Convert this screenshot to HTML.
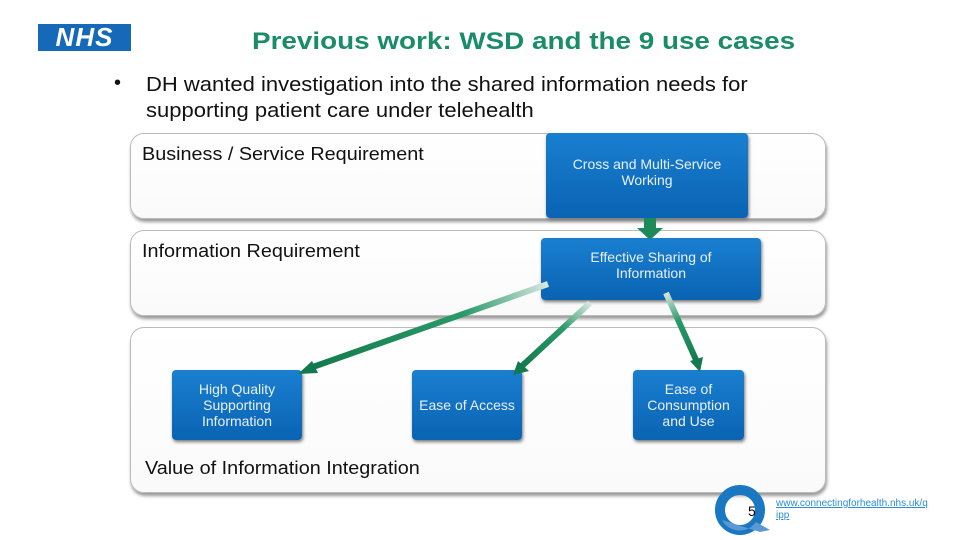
<!DOCTYPE html>
<html><head><meta charset="utf-8"><style>
body{margin:0;width:960px;height:540px;background:#fff;font-family:"Liberation Sans",sans-serif;position:relative;overflow:hidden}
.a{position:absolute}
.panel{position:absolute;left:130px;width:694px;border:1px solid #bbb;border-radius:14px;background:linear-gradient(#fff,#fafafa);box-shadow:1px 3px 3px #999}
.box{position:absolute;background:linear-gradient(#1a7fd0,#0a63b3);border-radius:4px;box-shadow:1px 2px 3px #777;color:#e8f1fb;font-size:14px;display:flex;align-items:center;justify-content:center;text-align:center;line-height:16px}
.lbl{position:absolute;font-size:18px;color:#111;transform:scaleX(1.1);transform-origin:left top;white-space:nowrap}
</style></head><body>
<div class="a" style="left:38px;top:24px;width:93px;height:27px;background:#1569b8;color:#fff;font:italic bold 26px 'Liberation Sans',sans-serif;text-align:center;line-height:27px;letter-spacing:1px">NHS</div>
<div class="a" style="left:252px;top:28px;font-size:24px;font-weight:bold;color:#1a8c68;transform:scaleX(1.16);transform-origin:left top;white-space:nowrap">Previous work: WSD and the 9 use cases</div>
<div class="a" style="left:114px;top:72px;font-size:20px;color:#111">•</div>
<div class="a" style="left:146px;top:72px;font-size:20px;line-height:26px;color:#111;transform:scaleX(1.1);transform-origin:left top;white-space:nowrap">DH wanted investigation into the shared information needs for<br>supporting patient care under telehealth</div>
<div class="panel" style="top:133px;height:84px"></div>
<div class="panel" style="top:230px;height:84px"></div>
<div class="panel" style="top:327px;height:164px"></div>
<div class="lbl" style="left:142px;top:144px">Business / Service Requirement</div>
<div class="lbl" style="left:142px;top:241px">Information Requirement</div>
<div class="lbl" style="left:145px;top:458px">Value of Information Integration</div>
<div class="box" style="left:546px;top:133px;width:202px;height:85px;padding-bottom:8px;box-sizing:border-box">Cross and Multi-Service<br>Working</div>
<div class="box" style="left:541px;top:238px;width:220px;height:62px;padding-bottom:8px;box-sizing:border-box">Effective Sharing of<br>Information</div>
<div class="box" style="left:172px;top:370px;width:130px;height:70px">High Quality<br>Supporting<br>Information</div>
<div class="box" style="left:412px;top:370px;width:110px;height:70px">Ease of Access</div>
<div class="box" style="left:633px;top:370px;width:111px;height:70px">Ease of<br>Consumption<br>and Use</div>
<svg class="a" style="left:0;top:0" width="960" height="540">
<defs>
<linearGradient id="g1" gradientUnits="userSpaceOnUse" x1="548" y1="284" x2="310" y2="368"><stop offset="0" stop-color="#d8e8e0"/><stop offset="0.35" stop-color="#2a9a6a"/><stop offset="1" stop-color="#137a4e"/></linearGradient>
<linearGradient id="g2" gradientUnits="userSpaceOnUse" x1="590" y1="303" x2="522" y2="366"><stop offset="0" stop-color="#d8e8e0"/><stop offset="0.4" stop-color="#2a9a6a"/><stop offset="1" stop-color="#137a4e"/></linearGradient>
<linearGradient id="g3" gradientUnits="userSpaceOnUse" x1="666" y1="293" x2="697" y2="362"><stop offset="0" stop-color="#d8e8e0"/><stop offset="0.4" stop-color="#2a9a6a"/><stop offset="1" stop-color="#137a4e"/></linearGradient>
</defs>
<polygon points="644,218 656,218 656,228 663,228 650,240 637,228 644,228" fill="#1e8a5a"/>
<g stroke-width="6" fill="none">
<line x1="548" y1="284" x2="310" y2="368" stroke="url(#g1)"/>
<line x1="590" y1="303" x2="522" y2="366" stroke="url(#g2)"/>
<line x1="666" y1="293" x2="697" y2="362" stroke="url(#g3)"/>
</g>
<polygon points="298,374 312,361 318,373" fill="#137a4e"/>
<polygon points="513,375 518,361 529,371" fill="#137a4e"/>
<polygon points="700,372 690,361 703,357" fill="#137a4e"/>
<circle cx="740" cy="510" r="20" fill="none" stroke="#1a78c2" stroke-width="10"/>
<path d="M722 520 A20 20 0 0 0 756 522 L770 530 L760 532 Z" fill="#5a9ad4"/>
</svg>
<div class="a" style="left:748px;top:503px;font-size:14px;color:#000">5</div>
<div class="a" style="left:776px;top:498px;font-size:10px;line-height:12px;color:#2a8ed8;text-decoration:underline">www.connectingforhealth.nhs.uk/q<br>ipp</div>
</body></html>
